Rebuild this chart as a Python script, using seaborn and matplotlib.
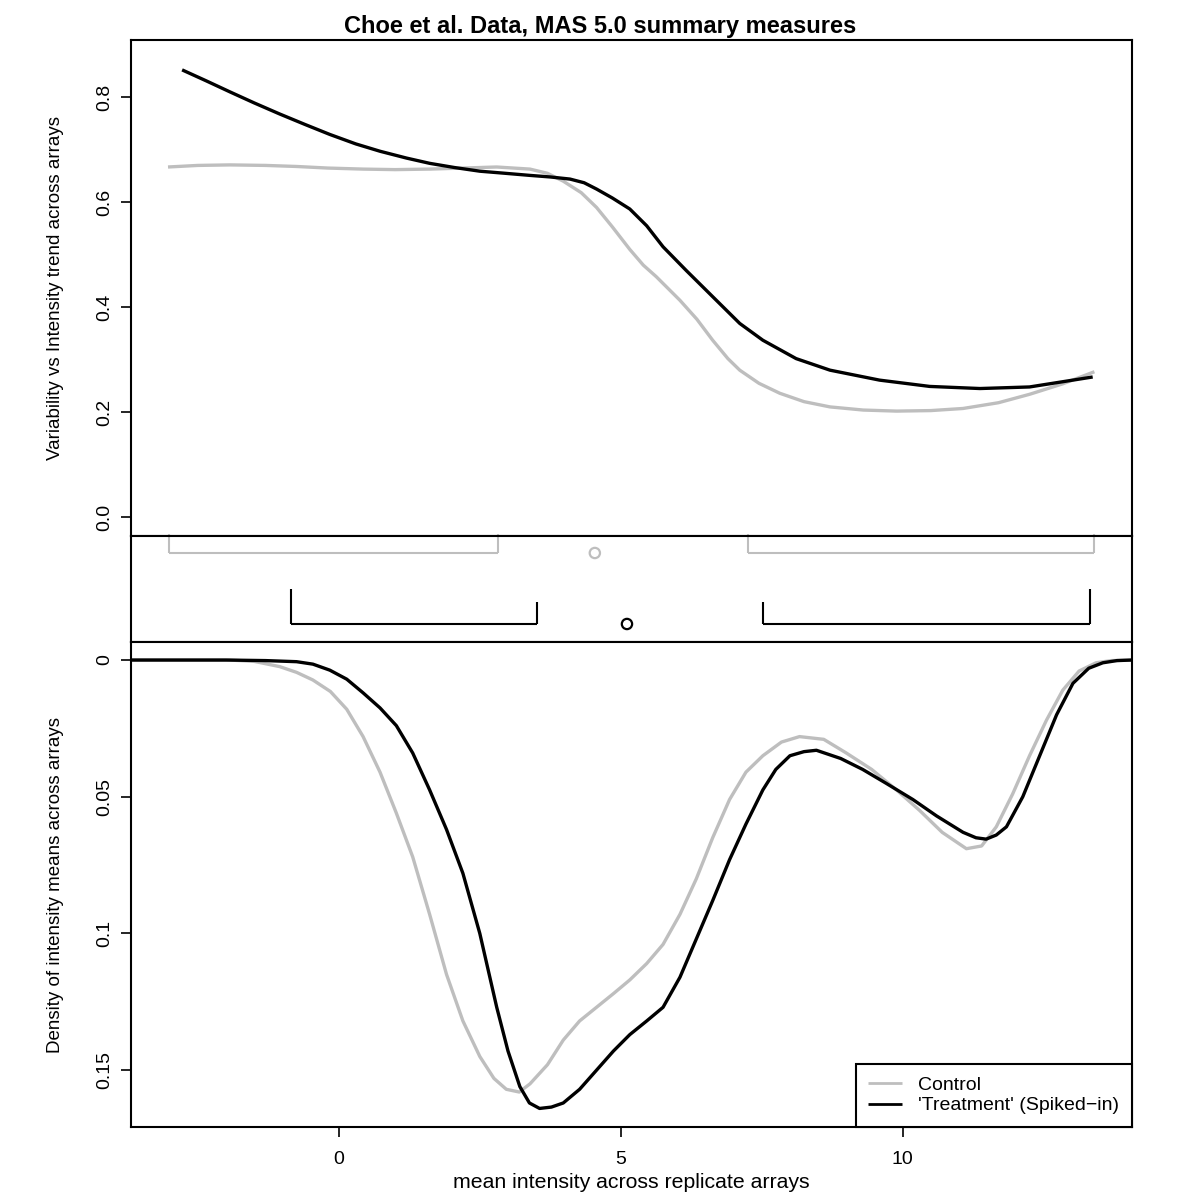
"""
Choe et al. spike-in data: variability trend, box summaries and density
of intensity means, drawn as three stacked panels sharing the x axis.
"""

import numpy as np
import pandas as pd
import matplotlib
matplotlib.use('Agg')
import matplotlib.pyplot as plt
import seaborn as sns

# --- top panel: variability vs intensity trend ---
trend_ctrl_x = [-3.03, -2.5, -1.93, -1.3, -0.75, -0.2, 0.43, 1.0, 1.61, 2.2, 2.8,
                3.39, 3.7, 3.98, 4.3, 4.57, 4.85, 5.16, 5.4, 5.63, 6.05, 6.35, 6.63,
                6.9, 7.11, 7.45, 7.82, 8.25, 8.71, 9.3, 9.89, 10.5, 11.07, 11.7,
                12.25, 12.84, 13.4]
trend_ctrl_y = [0.667, 0.670, 0.671, 0.670, 0.668, 0.665, 0.663, 0.662, 0.663, 0.665,
                0.667, 0.663, 0.655, 0.640, 0.618, 0.590, 0.553, 0.510, 0.480, 0.458,
                0.413, 0.377, 0.337, 0.302, 0.280, 0.255, 0.236, 0.220, 0.210, 0.204,
                0.202, 0.203, 0.207, 0.218, 0.234, 0.254, 0.277]

trend_trt_x = [-2.78, -2.35, -1.93, -1.5, -1.05, -0.6, -0.16, 0.3, 0.73, 1.2, 1.61,
               2.05, 2.5, 2.95, 3.39, 3.75, 4.1, 4.35, 4.57, 4.85, 5.16, 5.46, 5.75,
               6.16, 6.63, 7.11, 7.52, 8.11, 8.71, 9.59, 10.48, 11.37, 12.25, 12.84,
               13.37]
trend_trt_y = [0.852, 0.831, 0.810, 0.789, 0.768, 0.748, 0.729, 0.711, 0.697, 0.684,
               0.674, 0.666, 0.659, 0.655, 0.651, 0.648, 0.644, 0.637, 0.625, 0.608,
               0.587, 0.555, 0.515, 0.470, 0.420, 0.369, 0.337, 0.302, 0.280, 0.261,
               0.249, 0.245, 0.248, 0.258, 0.267]

# --- middle panel: box summaries (whisker ends, staples and outlier) ---
ctrl_lower = [-3.01, 2.82]
ctrl_upper = [7.25, 13.40]
ctrl_outlier = 4.54
trt_lower = [-0.85, 3.51]
trt_upper = [7.52, 13.33]
trt_outlier = 5.11

# --- bottom panel: density of intensity means (axis inverted) ---
dens_ctrl_x = [-3.69, -3.0, -2.4, -1.93, -1.5, -1.05, -0.75, -0.46, -0.15, 0.14, 0.43,
               0.73, 1.02, 1.31, 1.61, 1.91, 2.2, 2.5, 2.75, 2.97, 3.2, 3.39, 3.7, 3.98,
               4.27, 4.57, 4.87, 5.16, 5.46, 5.75, 6.05, 6.34, 6.63, 6.93, 7.22, 7.52,
               7.85, 8.17, 8.6, 9.0, 9.45, 9.89, 10.3, 10.7, 11.13, 11.4, 11.66, 11.95,
               12.25, 12.55, 12.84, 13.13, 13.43, 13.7, 14.06]
dens_ctrl_y = [0.0, 0.0, 0.0, 0.0, 0.0005, 0.0024, 0.0045, 0.0073, 0.0115, 0.018, 0.028,
               0.041, 0.056, 0.072, 0.093, 0.115, 0.132, 0.145, 0.153, 0.157, 0.158,
               0.155, 0.148, 0.139, 0.132, 0.127, 0.122, 0.117, 0.111, 0.104, 0.093,
               0.080, 0.065, 0.051, 0.041, 0.035, 0.030, 0.028, 0.029, 0.034, 0.040,
               0.0475, 0.055, 0.063, 0.069, 0.068, 0.061, 0.049, 0.035, 0.022, 0.011,
               0.004, 0.001, 0.0002, 0.0]

dens_trt_x = [-3.69, -3.0, -2.0, -1.3, -0.75, -0.46, -0.16, 0.14, 0.43, 0.73, 1.02, 1.31,
              1.61, 1.91, 2.2, 2.5, 2.8, 3.0, 3.21, 3.38, 3.56, 3.77, 3.98, 4.27, 4.57,
              4.87, 5.16, 5.46, 5.75, 6.05, 6.34, 6.63, 6.93, 7.22, 7.52, 7.75, 8.0,
              8.25, 8.47, 8.9, 9.29, 9.7, 10.18, 10.6, 11.07, 11.3, 11.48, 11.66, 11.84,
              12.13, 12.43, 12.73, 13.02, 13.3, 13.55, 13.8, 14.06]
dens_trt_y = [0.0, 0.0, 0.0, 0.0002, 0.0006, 0.0015, 0.0037, 0.007, 0.012, 0.0175, 0.024,
              0.034, 0.0475, 0.062, 0.078, 0.100, 0.127, 0.143, 0.156, 0.162, 0.164,
              0.1635, 0.162, 0.157, 0.150, 0.143, 0.137, 0.132, 0.127, 0.116, 0.102,
              0.088, 0.073, 0.060, 0.0475, 0.040, 0.035, 0.0335, 0.033, 0.036, 0.040,
              0.045, 0.051, 0.057, 0.063, 0.065, 0.0655, 0.064, 0.061, 0.050, 0.035,
              0.020, 0.0085, 0.003, 0.001, 0.0002, 0.0]

series_labels = ['Control', "'Treatment' (Spiked\u2212in)"]
CTRL = '#bebebe'
TRT = '#000000'

sns.set_theme(style='white')
plt.rcParams['font.family'] = ['Liberation Sans', 'DejaVu Sans']
plt.rcParams['font.size'] = 14
plt.rcParams['axes.edgecolor'] = 'black'
plt.rcParams['axes.linewidth'] = 1.5
for key in ('text.color', 'axes.labelcolor', 'xtick.color', 'ytick.color'):
    plt.rcParams[key] = 'black'

fig = plt.figure(figsize=(12, 12), dpi=100)
left, width = 0.109, 0.834
ax_top = fig.add_axes([left, 0.5533, width, 0.4134])
ax_mid = fig.add_axes([left, 0.465, width, 0.0883], sharex=ax_top)
ax_bot = fig.add_axes([left, 0.0608, width, 0.4042], sharex=ax_top)

xlim = (-3.69, 14.06)
line_kw = dict(linewidth=2.4, estimator=None, sort=True, solid_joinstyle='round',
               solid_capstyle='butt')

# top panel
top_df = pd.concat([
    pd.DataFrame({'x': trend_ctrl_x, 'y': trend_ctrl_y, 'group': series_labels[0]}),
    pd.DataFrame({'x': trend_trt_x, 'y': trend_trt_y, 'group': series_labels[1]}),
])
sns.lineplot(data=top_df, x='x', y='y', hue='group', palette=[CTRL, TRT],
             ax=ax_top, legend=False, **line_kw)
ax_top.set_ylim(-0.036, 0.909)
ax_top.set_yticks([0.0, 0.2, 0.4, 0.6, 0.8])
ax_top.set_yticklabels(['0.0', '0.2', '0.4', '0.6', '0.8'])
ax_top.set_ylabel('Variability vs Intensity trend across arrays', fontsize=13.5)
ax_top.yaxis.set_label_coords(-0.067, 0.5)
ax_top.set_xlabel('')
ax_top.tick_params(axis='x', bottom=False, labelbottom=False)

# middle panel: box summaries drawn as whiskers with upward staples
ctrl_row, trt_row = 0.84, 0.17
for lo, hi, row, col, cap_out, cap_in in [
        (ctrl_lower, ctrl_upper, ctrl_row, CTRL, 1.02, 1.02),
        (trt_lower, trt_upper, trt_row, TRT, 0.50, 0.377)]:
    for seg, caps in [(lo, (cap_out, cap_in)), (hi, (cap_in, cap_out))]:
        ax_mid.plot(seg, [row, row], color=col, lw=1.5, solid_capstyle='butt')
        ax_mid.plot([seg[0], seg[0]], [row, caps[0]], color=col, lw=1.5,
                    clip_on=False, solid_capstyle='butt')
        ax_mid.plot([seg[1], seg[1]], [row, caps[1]], color=col, lw=1.5,
                    clip_on=False, solid_capstyle='butt')
sns.scatterplot(x=[ctrl_outlier, trt_outlier], y=[ctrl_row, trt_row], ax=ax_mid,
                s=55, facecolor='none', edgecolor=[CTRL, TRT], linewidth=1.6,
                legend=False)
ax_mid.set_ylim(0, 1)
ax_mid.set_yticks([])
ax_mid.set_xlabel('')
ax_mid.set_ylabel('')
ax_mid.tick_params(axis='x', bottom=False, labelbottom=False)

# bottom panel
bot_df = pd.concat([
    pd.DataFrame({'x': dens_ctrl_x, 'y': dens_ctrl_y, 'group': series_labels[0]}),
    pd.DataFrame({'x': dens_trt_x, 'y': dens_trt_y, 'group': series_labels[1]}),
])
sns.lineplot(data=bot_df, x='x', y='y', hue='group', palette=[CTRL, TRT],
             ax=ax_bot, **line_kw)
ax_bot.set_ylim(0.1708, -0.0066)
ax_bot.set_yticks([0, 0.05, 0.1, 0.15])
ax_bot.set_yticklabels(['0', '0.05', '0.1', '0.15'])
ax_bot.set_ylabel('Density of intensity means across arrays', fontsize=13.5)
ax_bot.yaxis.set_label_coords(-0.067, 0.5)
ax_bot.set_xticks([0, 5, 10])
ax_bot.set_xticklabels(['0', '5', '10'])
ax_bot.set_xlabel('mean intensity across replicate arrays', fontsize=15.3, labelpad=4)
ax_bot.set_xlim(*xlim)

leg = ax_bot.legend(loc='lower right', borderaxespad=0, fancybox=False,
                    edgecolor='black', framealpha=1, fontsize=14,
                    handlelength=1.75, borderpad=0.65, labelspacing=0.15,
                    handletextpad=0.8)
leg.get_frame().set_linewidth(1.5)
for line in leg.get_lines():
    line.set_linewidth(2)

for ax in (ax_top, ax_mid, ax_bot):
    for s in ax.spines.values():
        s.set_visible(True)
        s.set_color('black')
        s.set_linewidth(1.5)

for ax in (ax_top, ax_bot):
    ax.tick_params(axis='y', left=True, length=7.5, width=1.2, pad=5,
                   labelsize=14, labelrotation=90, color='black')
    for lab in ax.get_yticklabels():
        lab.set_va('center')
ax_bot.tick_params(axis='x', bottom=True, length=7.5, width=1.2, pad=9.5,
                   labelsize=14, color='black')

fig.suptitle('Choe et al. Data, MAS 5.0 summary measures', fontsize=17,
             fontweight='bold', y=0.9775, va='center')

fig.savefig('out.png', dpi=100)
